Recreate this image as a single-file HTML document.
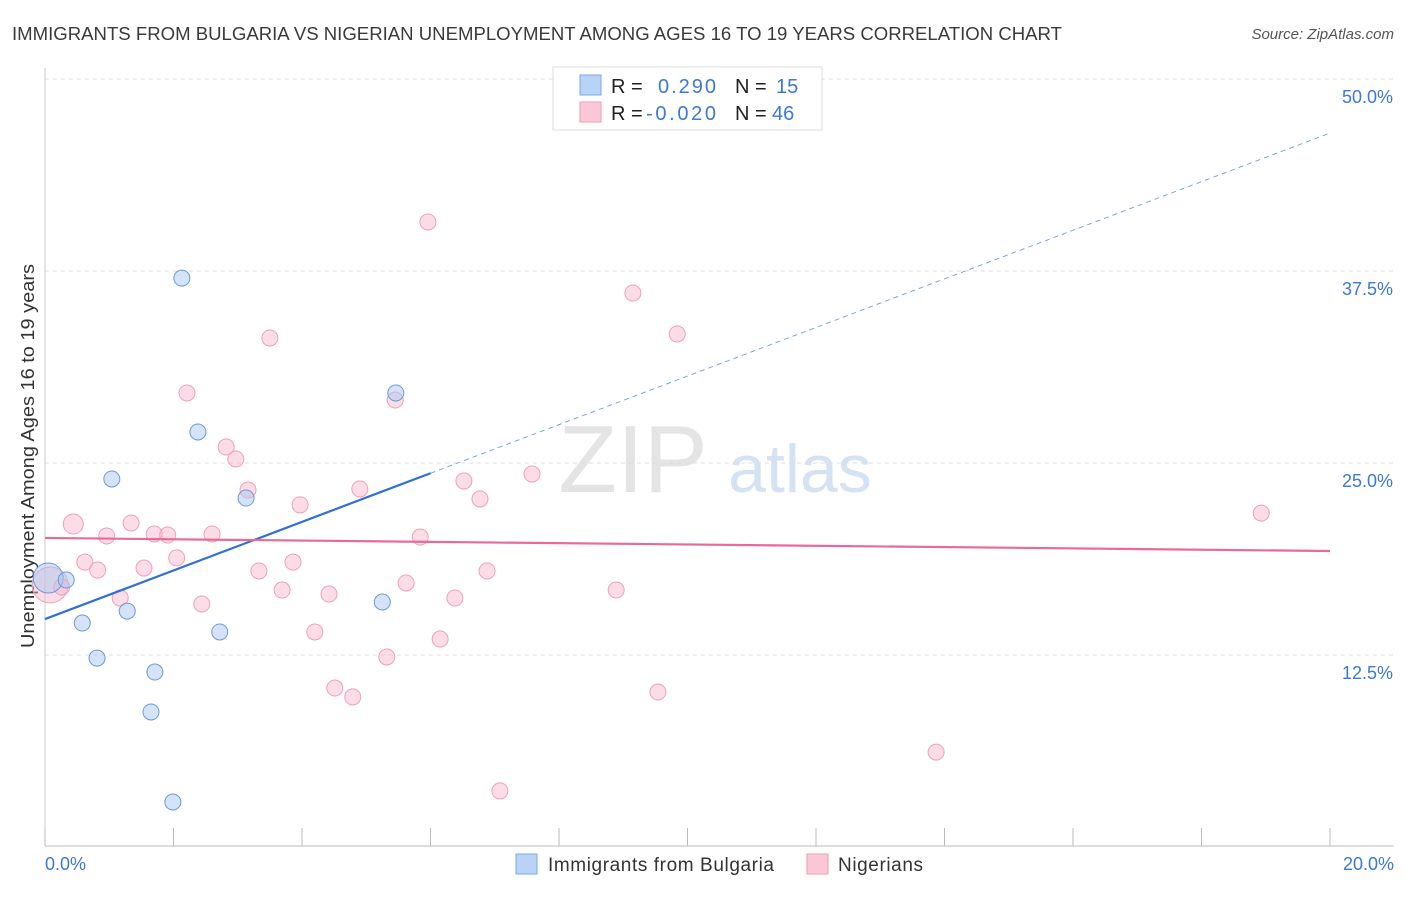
<!DOCTYPE html>
<html><head><meta charset="utf-8"><style>
body{margin:0;background:#fff;font-family:"Liberation Sans",sans-serif;}
svg text{font-family:"Liberation Sans",sans-serif;}
</style></head><body>
<svg id="chart" width="1406" height="892">
<text x="12" y="40" font-size="18" fill="#3a3a3a" textLength="1050" lengthAdjust="spacingAndGlyphs">IMMIGRANTS FROM BULGARIA VS NIGERIAN UNEMPLOYMENT AMONG AGES 16 TO 19 YEARS CORRELATION CHART</text>
<text x="1394" y="39" font-size="15" fill="#555" font-style="italic" text-anchor="end">Source: ZipAtlas.com</text>
<text x="633" y="492" font-size="96" fill="#e4e4e4" font-family="Liberation Serif" text-anchor="middle">ZIP</text>
<text x="800" y="492" font-size="68" fill="#d5e2f3" text-anchor="middle">atlas</text>
<text transform="translate(34,456) rotate(-90)" font-size="18" fill="#333" text-anchor="middle" textLength="384" lengthAdjust="spacingAndGlyphs">Unemployment Among Ages 16 to 19 years</text>
<g id="grid"></g><g id="marks"></g>
<g>
<rect x="553" y="67" width="269" height="63" fill="#fff" stroke="#ddd"/>
<rect x="580" y="75" width="21" height="20" fill="#b8d3f5" stroke="#7aa9e6"/>
<rect x="580" y="102" width="21" height="20" fill="#fcc8d7" stroke="#ef9ab3"/>
<text x="611" y="93" font-size="20" fill="#222">R = </text><text x="658" y="93" font-size="20" fill="#3b78d8" textLength="58">0.290</text>
<text x="735" y="93" font-size="20" fill="#222">N = </text><text x="776" y="93" font-size="20" fill="#3b78d8">15</text>
<text x="611" y="120" font-size="20" fill="#222">R = </text><text x="646" y="120" font-size="20" fill="#3b78d8" textLength="70">-0.020</text>
<text x="735" y="120" font-size="20" fill="#222">N = </text><text x="772" y="120" font-size="20" fill="#3b78d8">46</text>
</g>
<g>
<rect x="516" y="854" width="21" height="20" fill="#b8d3f5" stroke="#7aa9e6"/>
<text x="548" y="871" font-size="19" fill="#333" textLength="226">Immigrants from Bulgaria</text>
<rect x="807" y="854" width="21" height="20" fill="#fcc8d7" stroke="#ef9ab3"/>
<text x="838" y="871" font-size="19" fill="#333" textLength="85">Nigerians</text>
</g>
</svg>
<script>
const xTicks=[0,2,4,6,8,10,12,14,16,18,20];
const yTicks=[12.5,25,37.5,50];
const yTickLabels=["12.5%","25.0%","37.5%","50.0%"];
const bulgariaX=[0.05,0.33,0.58,0.81,1.28,1.04,1.71,1.65,1.99,2.13,2.38,2.72,3.13,5.25,5.46];
const bulgariaY=[17.51,17.38,14.58,12.30,15.36,23.96,11.39,8.79,2.93,37.04,27.02,14.00,22.72,15.95,29.56];
const nigerianX=[0.08,0.26,0.44,0.62,0.82,0.96,1.17,1.34,1.54,1.70,1.91,2.05,2.21,2.44,2.60,2.82,2.97,3.16,3.33,3.50,3.69,3.86,3.97,4.20,4.42,4.51,4.79,4.90,5.32,5.45,5.62,5.84,5.96,6.15,6.38,6.52,6.77,6.88,7.08,7.58,8.89,9.15,9.54,9.84,13.87,18.93];
const nigerianY=[17.06,16.93,21.03,18.55,18.03,20.25,16.21,21.09,18.16,20.38,20.31,18.82,29.56,15.82,20.38,26.04,25.26,23.24,17.97,33.14,16.73,18.55,22.27,14.00,16.47,10.35,9.77,23.31,12.37,29.10,17.19,20.18,40.69,13.54,16.21,23.83,22.66,17.97,3.65,24.28,16.73,36.07,10.09,33.40,6.18,21.74];
const bulgariaTrend=[14.84,46.48];
const nigerianTrend=[20.12,19.27];
const X=v=>45+v*64.25, Y=v=>847-v*15.36;
const NS="http://www.w3.org/2000/svg";
function mk(t,a,p){const e=document.createElementNS(NS,t);for(const k in a)e.setAttribute(k,a[k]);p.appendChild(e);return e;}
const g=document.getElementById('grid'), m=document.getElementById('marks');
yTicks.forEach((t,i)=>{
 const l=mk('line',{x1:45,x2:1394,y1:Y(t),y2:Y(t),stroke:'#ddd','stroke-dasharray':'4,4'},g);
 
 
 const tx=mk('text',{x:1393,y:Y(t)+24,'font-size':18,fill:'#3b78d8','text-anchor':'end'},g);
 tx.textContent=yTickLabels[i];
 
 
});
const ax=mk('line',{x1:45,x2:1394,y1:846,y2:846,stroke:'#bbb'},g);


const ay=mk('line',{x1:45,x2:45,y1:68,y2:846,stroke:'#ccc'},g);


xTicks.forEach(t=>{
 const l=mk('line',{x1:X(t),x2:X(t),y1:828,y2:846,stroke:'#bbb'},g);
 
 
});
[[0,"0.0%","start",45],[20,"20.0%","end",1394]].forEach(d=>{
 const tx=mk('text',{x:d[3],y:870,'font-size':18,fill:'#3b78d8','text-anchor':d[2]},g);
 tx.textContent=d[1];
 
 
});
nigerianX.forEach((x,i)=>{
 const c=mk('circle',{cx:X(x),cy:Y(nigerianY[i]),r:i==0?18:(i==2?10:8),fill:'rgba(248,180,202,0.45)',stroke:'#eea0b8','stroke-width':1},m);
 
 
});
bulgariaX.forEach((x,i)=>{
 const c=mk('circle',{cx:X(x),cy:Y(bulgariaY[i]),r:i==0?15:8,fill:'rgba(170,200,240,0.5)',stroke:'#6b9ad8','stroke-width':1},m);
 
 
});
const bAt=x=>bulgariaTrend[0]+(bulgariaTrend[1]-bulgariaTrend[0])*x/20;
const bs=mk('line',{x1:X(0),y1:Y(bAt(0)),x2:X(6),y2:Y(bAt(6)),stroke:'#2f6fd6','stroke-width':2.2},m);


const bd=mk('line',{x1:X(6),y1:Y(bAt(6)),x2:X(20),y2:Y(bAt(20)),stroke:'#7aa6e0','stroke-width':1,'stroke-dasharray':'5,4'},m);


const pl=mk('line',{x1:X(0),y1:Y(nigerianTrend[0]),x2:X(20),y2:Y(nigerianTrend[1]),stroke:'#e8699a','stroke-width':2.2},m);


</script>
</body></html>
